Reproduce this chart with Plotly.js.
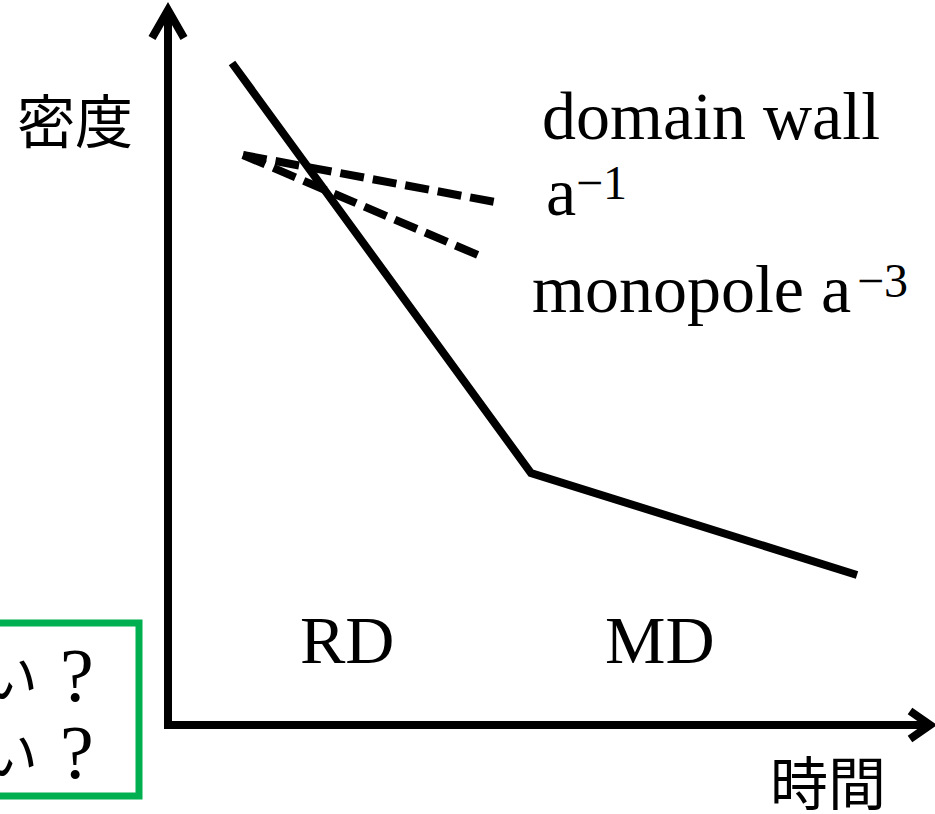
<!DOCTYPE html>
<html>
<head>
<meta charset="utf-8">
<script src="https://cdn.plot.ly/plotly-3.0.1.min.js"></script>
<style>html,body{margin:0;padding:0;background:#fff;}#chart{width:935px;height:814px;}</style>
</head>
<body>
<div id="chart"></div>
<script>
// Schematic data (arbitrary units: time, density)
const totalTime = [0.64, 3.63, 6.89];
const totalDensity = [6.62, 2.52, 1.50];
const wallTime = [0.75, 3.27];
const wallDensity = [5.70, 5.23];
const monopoleTime = [0.75, 3.17];
const monopoleDensity = [5.70, 4.67];

const W = 935, H = 814;
const X0 = 168, Y0 = 725, S = 100; // pixel origin and scale
const xr = [-X0 / S, (W - X0) / S];
const yr = [(Y0 - H) / S, Y0 / S];
const px = p => (p - X0) / S;
const py = p => (Y0 - p) / S;

const traces = [
  {x: totalTime, y: totalDensity, mode: 'lines', line: {color: '#000', width: 8}, hoverinfo: 'skip'},
  {x: wallTime, y: wallDensity, mode: 'lines', line: {color: '#000', width: 8, dash: '24px,9px'}, hoverinfo: 'skip'},
  {x: monopoleTime, y: monopoleDensity, mode: 'lines', line: {color: '#000', width: 8, dash: '24px,9px'}, hoverinfo: 'skip'}
];

const serif = {family: 'Liberation Serif, serif', size: 68, color: '#000'};
const serifSup = {family: 'Liberation Serif, serif', size: 48, color: '#000'};
const serifQ = {family: 'Liberation Serif, serif', size: 76, color: '#000'};
const cjk = {family: 'Noto Sans CJK JP, sans-serif', size: 58, color: '#000'};
const cjkBox = {family: 'Noto Sans CJK JP, sans-serif', size: 56, color: '#000'};

function ann(text, x, y, font, xanchor) {
  return {text: text, x: px(x), y: py(y), xref: 'x', yref: 'y', showarrow: false,
          xanchor: xanchor || 'center', yanchor: 'middle', font: font};
}

const layout = {
  width: W, height: H,
  margin: {l: 0, r: 0, t: 0, b: 0},
  paper_bgcolor: '#fff', plot_bgcolor: '#fff',
  showlegend: false,
  xaxis: {range: xr, visible: false, fixedrange: true},
  yaxis: {range: yr, visible: false, fixedrange: true},
  shapes: [
    // y axis with arrow
    {type: 'line', xref: 'x', yref: 'y', x0: 0, y0: 0, x1: 0, y1: py(10), line: {color: '#000', width: 8}},
    {type: 'path', xref: 'x', yref: 'y', path: `M ${px(152)} ${py(38)} L ${px(168)} ${py(10)} L ${px(184)} ${py(38)}`, line: {color: '#000', width: 8}},
    // x axis with arrow
    {type: 'line', xref: 'x', yref: 'y', x0: px(164), y0: 0, x1: px(929), y1: 0, line: {color: '#000', width: 8}},
    {type: 'path', xref: 'x', yref: 'y', path: `M ${px(910)} ${py(711)} L ${px(930)} ${py(725)} L ${px(910)} ${py(739)}`, line: {color: '#000', width: 8}},
    // green box (partially off-screen)
    {type: 'rect', xref: 'x', yref: 'y', x0: px(-20), y0: py(623), x1: px(139), y1: py(796), line: {color: '#00b050', width: 7}}
  ],
  annotations: [
    ann('密度', 75, 118, cjk),
    ann('時間', 828, 780, cjk),
    ann('domain wall', 540, 116, serif, 'left'),
    ann('a', 544, 192, serif, 'left'),
    ann('−1', 574, 182, serifSup, 'left'),
    ann('monopole a', 530, 289, serif, 'left'),
    ann('−3', 855, 280, serifSup, 'left'),
    ann('RD', 347, 640, serif),
    ann('MD', 660, 640, serif),
    ann('い', 40, 673, cjkBox, 'right'),
    ann('?', 77, 675, serifQ),
    ann('い', 40, 750, cjkBox, 'right'),
    ann('?', 77, 752, serifQ)
  ]
};

Plotly.newPlot('chart', traces, layout, {staticPlot: true, displayModeBar: false});
</script>
</body>
</html>
